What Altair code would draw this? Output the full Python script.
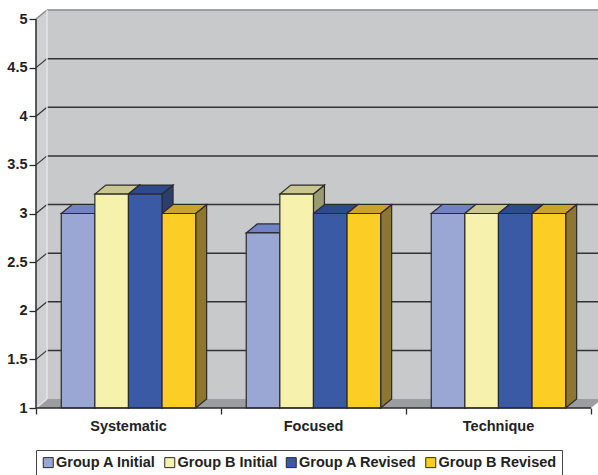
import altair as alt
import pandas as pd

# ---- data -------------------------------------------------------------
categories = ["Systematic", "Focused", "Technique"]
series = ["Group A Initial", "Group B Initial", "Group A Revised", "Group B Revised"]
group_a_initial = [3.0, 2.8, 3.0]
group_b_initial = [3.2, 3.2, 3.0]
group_a_revised = [3.2, 3.0, 3.0]
group_b_revised = [3.0, 3.0, 3.0]
series_values = [group_a_initial, group_b_initial, group_a_revised, group_b_revised]

front_colors = ["#9AA6D4", "#F7F1AE", "#3A5AA5", "#FCCD25"]
top_colors = ["#7182C5", "#CAC690", "#2E4A8C", "#C9A32E"]
side_colors = ["#5B6699", "#9A9B70", "#2C3E6B", "#8C7631"]
y_ticks = [1, 1.5, 2, 2.5, 3, 3.5, 4, 4.5, 5]

# ---- layout (pixels -> data units) -----------------------------------
PX_PER_CAT = 185.0
PX_PER_UNIT = 97.25
W = 562
Y_MIN, Y_MAX = 1.0, 5.0
DX = 11 / PX_PER_CAT           # depth offset, horizontal
DY = 9 / PX_PER_UNIT           # depth offset, vertical
H = round((Y_MAX - Y_MIN) * PX_PER_UNIT + 9)
X_END = W / PX_PER_CAT
N_CAT = len(categories)
GAP = 25.25 / PX_PER_CAT
BW = 33.6 / PX_PER_CAT
FONT = "Liberation Sans"
INK = "#2a2a2a"

xs = alt.Scale(domain=[0, X_END], nice=False, zero=False)
ys = alt.Scale(domain=[Y_MIN, Y_MAX + DY], nice=False, zero=False)

# ---- bar faces --------------------------------------------------------
fronts, tops, sides = [], [], []
for si, (name, vals) in enumerate(zip(series, series_values)):
    for ci, v in enumerate(vals):
        xl = ci + GAP + si * BW
        xr = xl + BW
        fid = f"{si}-{ci}"
        fronts.append({"series": name, "x": xl, "x2": xr, "y": Y_MIN, "y2": v})
        for px, a, b in [(xl, v, v), (xl + DX, v, v + DY), (xr, v, v + DY), (xr + DX, v + DY, v + DY)]:
            tops.append({"face": fid, "x": px, "y": a, "y2": b, "col": top_colors[si]})
        for px, a, b in [(xr, Y_MIN, v), (xr + DX, Y_MIN + DY, v + DY)]:
            sides.append({"face": fid, "x": px, "y": a, "y2": b, "col": side_colors[si]})

fronts = pd.DataFrame(fronts)
tops = pd.DataFrame(tops)
sides = pd.DataFrame(sides)


def X(f="x"):
    return alt.X(f"{f}:Q", scale=xs, axis=None)


def Y(f="y"):
    return alt.Y(f"{f}:Q", scale=ys, axis=None, stack=None)


# ---- walls and floor --------------------------------------------------
back_wall = alt.Chart(pd.DataFrame([{"x": DX, "x2": X_END, "y": Y_MIN + DY, "y2": Y_MAX + DY}])).mark_rect(
    fill="#C8C9CB"
).encode(x=X(), x2="x2:Q", y=Y(), y2="y2:Q")

left_wall = alt.Chart(pd.DataFrame([
    {"x": 0, "y": Y_MIN, "y2": Y_MAX},
    {"x": DX, "y": Y_MIN + DY, "y2": Y_MAX + DY},
])).mark_area(fill="#CFD0D2").encode(x=X(), y=Y(), y2="y2:Q")

floor = alt.Chart(pd.DataFrame([
    {"x": 0, "y": Y_MIN, "y2": Y_MIN},
    {"x": DX, "y": Y_MIN, "y2": Y_MIN + DY},
    {"x": N_CAT, "y": Y_MIN, "y2": Y_MIN + DY},
    {"x": N_CAT + DX, "y": Y_MIN + DY, "y2": Y_MIN + DY},
])).mark_area(fill="#9C9DA0", clip=True).encode(x=X(), y=Y(), y2="y2:Q")

grid_vals = [v for v in y_ticks if Y_MIN < v < Y_MAX]
back_grid = alt.Chart(pd.DataFrame({"y": [v + DY for v in grid_vals]})).mark_rule(
    color="#333333", strokeWidth=1.5
).encode(x=alt.X("a:Q", scale=xs, axis=None), x2="b:Q", y=Y()).transform_calculate(a=str(DX), b=str(X_END))

side_grid = alt.Chart(pd.DataFrame({"y": grid_vals, "y2": [v + DY for v in grid_vals]})).mark_rule(
    color="#333333", strokeWidth=1.2
).encode(x=alt.X("a:Q", scale=xs, axis=None), x2="b:Q", y=Y(), y2="y2:Q").transform_calculate(a="0", b=str(DX))

edges = alt.Chart(pd.DataFrame([
    {"x": DX, "x2": X_END, "y": Y_MAX + DY, "y2": Y_MAX + DY, "c": "#8A8A8A"},
    {"x": 0, "x2": DX, "y": Y_MAX, "y2": Y_MAX + DY, "c": "#8A8A8A"},
    {"x": DX, "x2": DX, "y": Y_MIN + DY, "y2": Y_MAX + DY, "c": "#E4E4E4"},
    {"x": 0, "x2": DX, "y": Y_MIN, "y2": Y_MIN + DY, "c": "#E4E4E4"},
])).mark_rule(strokeWidth=1.5).encode(
    x=X(), x2="x2:Q", y=Y(), y2="y2:Q", color=alt.Color("c:N", scale=None)
)

# ---- bars -------------------------------------------------------------
side_layer = alt.Chart(sides).mark_area(stroke=INK, strokeWidth=1.2, strokeJoin="miter").encode(
    x=X(), y=Y(), y2="y2:Q", fill=alt.Fill("col:N", scale=None), detail="face:N"
)
top_layer = alt.Chart(tops).mark_area(stroke=INK, strokeWidth=1.2, strokeJoin="miter").encode(
    x=X(), y=Y(), y2="y2:Q", fill=alt.Fill("col:N", scale=None), detail="face:N"
)
front_layer = alt.Chart(fronts).mark_rect(stroke=INK, strokeWidth=1.2).encode(
    x=alt.X("x:Q", scale=xs, axis=alt.Axis(
        values=list(range(N_CAT + 1)), labels=False, domain=False, grid=False,
        tickSize=6, tickColor=INK, tickWidth=1.3, title=None)),
    x2="x2:Q",
    y=alt.Y("y:Q", scale=ys, axis=alt.Axis(
        values=y_ticks, format="~g", domain=False, grid=False, tickSize=7,
        tickColor=INK, tickWidth=1.3, labelFont=FONT, labelFontSize=14.5,
        labelFontWeight="bold", labelColor="#222222", labelPadding=2, title=None)),
    y2="y2:Q",
    fill=alt.Fill("series:N", sort=series,
                  scale=alt.Scale(domain=series, range=front_colors),
                  legend=alt.Legend(title=" ", titleOrient="bottom", titleFontSize=12,
                                    titlePadding=2, orient="none", legendX=0, legendY=440,
                                    direction="horizontal", columns=4)),
)

# ---- front axis lines and category labels -----------------------------
axis_lines = alt.Chart(pd.DataFrame([
    {"x": 0, "x2": 0, "y": Y_MIN, "y2": Y_MAX},
    {"x": 0, "x2": N_CAT, "y": Y_MIN, "y2": Y_MIN},
])).mark_rule(color=INK, strokeWidth=1.5).encode(x=X(), x2="x2:Q", y=Y(), y2="y2:Q")

cat_labels = alt.Chart(pd.DataFrame({"cat": categories, "x": [i + 0.5 for i in range(N_CAT)]})).mark_text(
    font=FONT, fontSize=14.5, fontWeight="bold", color="#222222", baseline="alphabetic", dy=22.5
).encode(x=X(), y=alt.Y("y:Q", scale=ys, axis=None), text="cat:N").transform_calculate(y=str(Y_MIN))

chart = alt.layer(
    back_wall, left_wall, floor, back_grid, side_grid, edges,
    side_layer, top_layer, front_layer, axis_lines, cat_labels,
).resolve_axis(x="independent", y="independent").properties(
    width=W, height=H,
    autosize=alt.AutoSizeParams(type="none"),
    padding={"left": 36, "top": 10, "right": 0, "bottom": 475 - 10 - H},
    background="white",
).configure_view(stroke=None).configure_legend(
    labelFont=FONT, labelFontSize=14.5, labelFontWeight="bold", labelColor="#222222",
    labelLimit=300, symbolType="square", symbolSize=100, symbolStrokeColor=INK,
    symbolStrokeWidth=1, symbolOpacity=1, labelOffset=0.5, columnPadding=6.5,
    padding=5, strokeColor="#444444", fillColor="white", rowPadding=0,
)

chart.save("out.html", embed_options={"renderer": "svg", "actions": False})
